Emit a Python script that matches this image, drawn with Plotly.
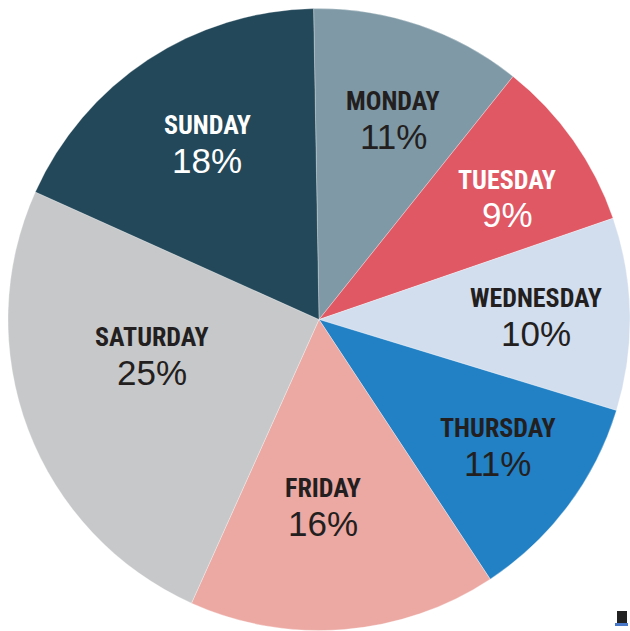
import plotly.graph_objects as go

days = ["MONDAY", "TUESDAY", "WEDNESDAY", "THURSDAY", "FRIDAY", "SATURDAY", "SUNDAY"]
shares = [11, 9, 10, 11, 16, 25, 18]
colors = ["#7f9aa6", "#df5864", "#d2ddee", "#2280c5", "#eca8a2", "#c7c8ca", "#234859"]
text_colors = ["#231f20", "#ffffff", "#231f20", "#231f20", "#231f20", "#231f20", "#ffffff"]

# label anchor positions in page pixels (x, y of name line)
label_px = [(393, 101), (507, 180), (536, 298), (497, 428), (323, 488), (152, 337), (207, 125)]

W, H = 630, 631

def px_to_paper(px, py):
    return px / W, 1 - py / H

fig = go.Figure(go.Pie(
    labels=days, values=shares, sort=False, direction="clockwise", rotation=-1,
    marker=dict(colors=colors, line=dict(color="rgba(255,255,255,0.5)", width=0.6)),
    textinfo="none", hoverinfo="label+percent", showlegend=False,
    domain=dict(x=[8 / W, 1], y=[0, 1 - 8 / H]),
))

anns = []
for d, s, tc, (px, py) in zip(days, shares, text_colors, label_px):
    x, y = px_to_paper(px, py)
    _, y2 = px_to_paper(px, py + 35)
    anns.append(dict(x=x, y=y, xref="paper", yref="paper", text=f"<b>{d}</b>",
                     showarrow=False, xanchor="center", yanchor="middle",
                     font=dict(family="Roboto Condensed, Liberation Sans Narrow, sans-serif", size=26, color=tc)))
    anns.append(dict(x=x, y=y2, xref="paper", yref="paper", text=f"{s}%",
                     showarrow=False, xanchor="center", yanchor="middle",
                     font=dict(family="Liberation Sans, Arial, sans-serif", size=35, color=tc)))

x0, y1 = px_to_paper(617, 611)
x1, y0 = px_to_paper(627, 623)
bx0, by1 = px_to_paper(615, 623)
bx1, by0 = px_to_paper(628, 626)

fig.update_layout(
    width=W, height=H, margin=dict(l=0, r=0, t=0, b=0),
    paper_bgcolor="white", plot_bgcolor="white",
    annotations=anns,
    shapes=[
        dict(type="rect", xref="paper", yref="paper", x0=x0, x1=x1, y0=y0, y1=y1,
             fillcolor="#222222", line=dict(width=0)),
        dict(type="rect", xref="paper", yref="paper", x0=bx0, x1=bx1, y0=by0, y1=by1,
             fillcolor="#4a78c8", line=dict(width=0)),
    ],
)

fig.write_html("out.html", config={"displayModeBar": False},
               post_script="document.body.style.margin='0';document.body.style.padding='0';document.documentElement.style.overflow='hidden';document.body.style.overflow='hidden';")
